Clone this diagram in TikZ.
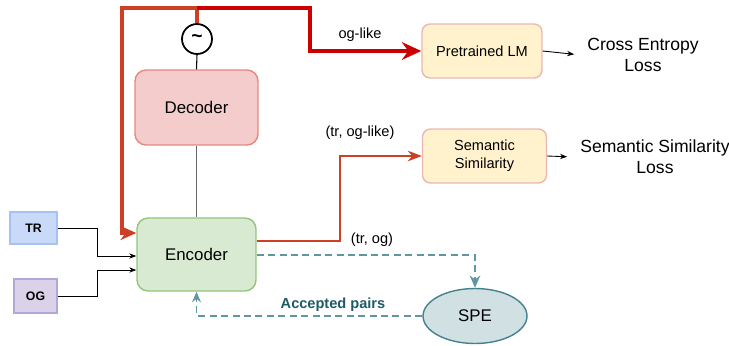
\documentclass[tikz,border=0pt]{standalone}
\usepackage{fontspec}
\setmainfont{Liberation Sans}
\usepackage{xcolor}
\usetikzlibrary{arrows.meta,shapes.geometric,calc}

\definecolor{encfill}{HTML}{D9EAD3}
\definecolor{encline}{HTML}{93C47D}
\definecolor{decfill}{HTML}{F4CCCC}
\definecolor{decline}{HTML}{E6877E}
\definecolor{lossfill}{HTML}{FFF2CC}
\definecolor{lossline}{HTML}{EAB8B0}
\definecolor{trfill}{HTML}{C9DAF8}
\definecolor{trline}{HTML}{A4C2F4}
\definecolor{ogfill}{HTML}{D9D2E9}
\definecolor{ogline}{HTML}{B4A7D6}
\definecolor{spefill}{HTML}{D0E0E3}
\definecolor{speline}{HTML}{45818E}
\definecolor{dashteal}{HTML}{5E97A1}
\definecolor{darkteal}{HTML}{1F5A66}
\definecolor{orred}{HTML}{CC4125}
\definecolor{brred}{HTML}{CC0000}

\begin{document}
\begin{tikzpicture}[x=0.02cm,y=-0.02cm,
	box/.style={draw,line width=0.8pt,rounded corners=0.22cm,align=center,inner sep=0pt},
	inbox/.style={draw,line width=0.6pt,inner sep=0pt,font=\fontsize{7}{8}\selectfont\bfseries},
	feed/.style={line width=0.5pt,-{Stealth[length=4pt,width=3pt]}},
	redpath/.style={orred,line width=2.2pt},
	spepath/.style={dashteal,line width=1pt,dash pattern=on 4pt off 2.5pt},
	losstext/.style={align=center,font=\fontsize{10}{12}\selectfont}]
	\useasboundingbox (0,0) rectangle (729,345);
	% boxes
	\node[inbox,fill=trfill,draw=trline,minimum width=0.94cm,minimum height=0.64cm] (tr) at (33.5,228) {TR};
	\node[inbox,fill=ogfill,draw=ogline,minimum width=0.86cm,minimum height=0.68cm] (og) at (35.5,296) {OG};
	\node[box,fill=encfill,draw=encline,minimum width=2.38cm,minimum height=1.46cm,font=\fontsize{9.6}{11}\selectfont] (enc) at (196.5,254.5) {Encoder};
	\node[box,fill=decfill,draw=decline,minimum width=2.46cm,minimum height=1.5cm,font=\fontsize{9.6}{11}\selectfont] (dec) at (196.5,107.5) {Decoder};
	\node[draw,circle,line width=1pt,minimum size=0.6cm,inner sep=0pt,font=\fontsize{11}{12}\selectfont\bfseries] (sample) at (197,39) {\char`\~};
	\node[box,rounded corners=0.16cm,fill=lossfill,draw=lossline,minimum width=2.4cm,minimum height=1.08cm,font=\fontsize{8.3}{10}\selectfont] (plm) at (482,51) {Pretrained LM};
	\node[box,rounded corners=0.16cm,fill=lossfill,draw=lossline,minimum width=2.48cm,minimum height=1.08cm,font=\fontsize{8.3}{10}\selectfont] (sem) at (484.5,156) {Semantic\\Similarity};
	\node[draw=speline,fill=spefill,ellipse,line width=0.8pt,minimum width=2.08cm,minimum height=1.1cm,inner sep=0pt,font=\fontsize{9.6}{11}\selectfont] (spe) at (475,316) {SPE};
	\node[losstext] (celoss) at (643,55) {Cross Entropy\\Loss};
	\node[losstext] (ssloss) at (655,157) {Semantic Similarity\\Loss};
	%
	\coordinate (split) at (197,8);
	%
	\draw[line width=0.6pt] (sample.south) -- (dec.north);
	\draw[line width=0.6pt,black!60] (dec.south) -- (enc.north);
	\draw[feed] (tr.east) -- ++(40,0) |- ($(enc.west)+(0,1.5)$);
	\draw[feed] (og.east) -- ++(40,0) |- ($(enc.west)+(0,15.5)$);
	\draw[redpath,-{Stealth[length=9pt,width=8pt]}] (sample.north) -- (split) -- (122,8) |- ($(enc.west)+(0,-21.5)$);
	\draw[brred,line width=2.2pt,-{Stealth[length=11pt,width=10pt]}] (split) -- (310,8) |- (plm.west);
	\draw[orred,line width=1.1pt,-{Stealth[length=8pt,width=6pt]}] ($(enc.east)+(0,-13.5)$) -| ($(sem.west)+(-82,0)$) -- (sem.west);
	\draw[spepath,-{Stealth[length=7pt,width=6pt]}] ($(enc.east)+(0,0.5)$) -| (spe.north);
	\draw[spepath,-{Stealth[length=6pt,width=5pt,open]}] (spe.west) -| (enc.south);
	\draw[feed,shorten >=4pt] (plm.east) -- (celoss.west);
	\draw[feed,shorten >=4pt] (sem.east) -- (ssloss.west);
	%
	\node[font=\fontsize{8.3}{10}\selectfont] (oglike) at (360,35) {og-like};
	\node[font=\fontsize{8.3}{10}\selectfont] (troglike) at (360,133) {(tr, og-like)};
	\node[font=\fontsize{8.3}{10}\selectfont] (trog) at (372,240) {(tr, og)};
	\node[font=\fontsize{8.3}{10}\selectfont\bfseries,text=darkteal] (accepted) at (333,305) {Accepted pairs};
\end{tikzpicture}
\end{document}
